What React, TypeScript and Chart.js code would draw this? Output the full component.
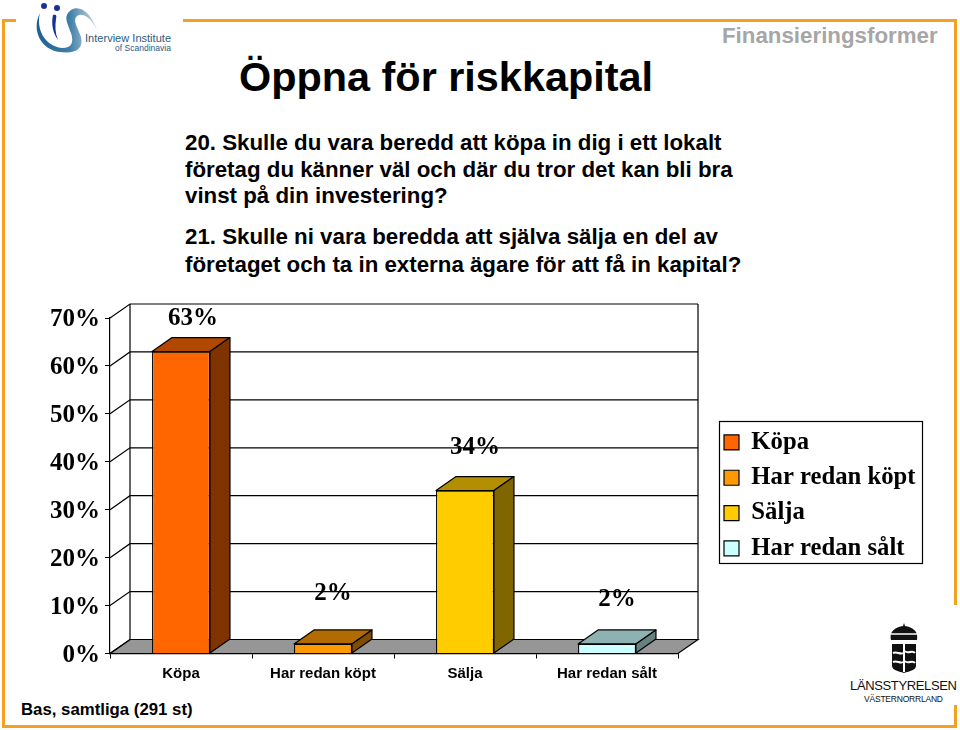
import React, { useEffect, useRef } from "react";
import { Chart, registerables } from "chart.js";

Chart.register(...registerables);

const categories = ["Köpa", "Har redan köpt", "Sälja", "Har redan sålt"];
const shares = [63, 2, 34, 2];
const valueLabels = ["63%", "2%", "34%", "2%"];
const frontColors = ["#FF6600", "#FF9900", "#FFCC00", "#CCFFFF"];
const topColors = ["#B24700", "#B26B00", "#B28E00", "#8EB2B2"];
const sideColors = ["#7F3300", "#7F4C00", "#7F6600", "#667F7F"];
const labelNudgeX = [12, 10, 10, 10];
const labelNudgeY = [-33, -50, -43, -44];

const SERIF = '"Liberation Serif", "Times New Roman", serif';
const SANS = '"Liberation Sans", Arial, sans-serif';
const DX = 20;
const DY = -14;
const FRAME = "#F5A01E";

const depthPlugin = {
  id: "depth",
  beforeLayout(chart: any) {
    const lg = chart.legend;
    if (lg && !lg.__patched) {
      const orig = lg.fit;
      lg.fit = function () {
        orig.call(this);
        this.width = 0;
      };
      lg.__patched = true;
    }
  },
  afterLayout(chart: any) {
    const lg = chart.legend;
    lg.left = 713.4;
    lg.right = 925;
    lg.top = 419.5;
    lg.bottom = 600;
    lg.width = 211.6;
    lg.height = 180.5;
  },
  beforeDatasetsDraw(chart: any) {
    const { ctx, chartArea: a, scales } = chart;
    const y = scales.y;
    ctx.save();
    ctx.fillStyle = "#969696";
    ctx.strokeStyle = "#000";
    ctx.lineWidth = 1.2;
    ctx.beginPath();
    ctx.moveTo(a.left, a.bottom);
    ctx.lineTo(a.right, a.bottom);
    ctx.lineTo(a.right + DX, a.bottom + DY);
    ctx.lineTo(a.left + DX, a.bottom + DY);
    ctx.closePath();
    ctx.fill();
    ctx.stroke();
    y.ticks.forEach((t: any) => {
      const py = y.getPixelForValue(t.value);
      ctx.beginPath();
      ctx.moveTo(a.left, py);
      ctx.lineTo(a.left + DX, py + DY);
      ctx.lineTo(a.right + DX, py + DY);
      ctx.stroke();
    });
    ctx.beginPath();
    ctx.moveTo(a.left + DX, a.top + DY);
    ctx.lineTo(a.left + DX, a.bottom + DY);
    ctx.moveTo(a.right + DX, a.top + DY);
    ctx.lineTo(a.right + DX, a.bottom + DY);
    ctx.stroke();
    ctx.restore();
  },
  afterDatasetsDraw(chart: any) {
    const { ctx } = chart;
    const bars = chart.getDatasetMeta(0).data;
    ctx.save();
    ctx.strokeStyle = "#000";
    ctx.lineWidth = 1.2;
    ctx.lineJoin = "round";
    bars.forEach((bar: any, i: number) => {
      const half = bar.width / 2;
      const l = bar.x - half;
      const r = bar.x + half;
      const t = bar.y;
      const b = bar.base;
      ctx.fillStyle = topColors[i];
      ctx.beginPath();
      ctx.moveTo(l, t);
      ctx.lineTo(l + DX, t + DY);
      ctx.lineTo(r + DX, t + DY);
      ctx.lineTo(r, t);
      ctx.closePath();
      ctx.fill();
      ctx.stroke();
      ctx.fillStyle = sideColors[i];
      ctx.beginPath();
      ctx.moveTo(r, t);
      ctx.lineTo(r + DX, t + DY);
      ctx.lineTo(r + DX, b + DY);
      ctx.lineTo(r, b);
      ctx.closePath();
      ctx.fill();
      ctx.stroke();
    });
    ctx.fillStyle = "#000";
    ctx.font = `bold 25px ${SERIF}`;
    ctx.textAlign = "center";
    ctx.textBaseline = "middle";
    bars.forEach((bar: any, i: number) => {
      ctx.fillText(valueLabels[i], bar.x + labelNudgeX[i], bar.y + labelNudgeY[i]);
    });
    ctx.restore();
  },
  afterDraw(chart: any) {
    const { ctx } = chart;
    ctx.save();
    ctx.strokeStyle = "#000";
    ctx.lineWidth = 1.2;
    ctx.strokeRect(719.5, 421.5, 203, 142);
    ctx.restore();
  },
};

const questionLines = [
  { text: "20. Skulle du vara beredd att köpa in dig i ett lokalt", top: 132 },
  { text: "företag du känner väl och där du tror det kan bli bra", top: 158.6 },
  { text: "vinst på din investering?", top: 185 },
  { text: "21. Skulle ni vara beredda att själva sälja en del av", top: 226 },
  { text: "företaget och ta in externa ägare för att få in kapital?", top: 253.6 },
];

export default function App() {
  const ref = useRef<HTMLCanvasElement>(null);
  useEffect(() => {
    document.body.style.margin = "0";
    document.body.style.background = "#fff";
    const chart = new Chart(ref.current!, {
      type: "bar",
      data: {
        labels: categories,
        datasets: [
          {
            data: shares,
            backgroundColor: frontColors,
            borderColor: "#000",
            borderWidth: 1.2,
            barPercentage: 0.51,
            categoryPercentage: 0.8,
          },
        ],
      },
      plugins: [depthPlugin],
      options: {
        animation: false,
        responsive: false,
        layout: { padding: { top: 318, right: 282, left: 0, bottom: 0 } },
        scales: {
          x: {
            afterFit(s: any) {
              s.height = 76.5;
            },
            border: { color: "#000", width: 1.2 },
            grid: {
              drawOnChartArea: false,
              tickLength: 5,
              color: "#000",
              offset: true,
            },
            ticks: {
              color: "#000",
              padding: 6,
              font: { family: SANS, size: 15, weight: "bold" },
            },
          },
          y: {
            min: 0,
            max: 70,
            afterFit(s: any) {
              s.width = 110;
            },
            border: { color: "#000", width: 1.2 },
            grid: { drawOnChartArea: false, tickLength: 5, color: "#000" },
            ticks: {
              stepSize: 10,
              color: "#000",
              padding: 5,
              labelOffset: 2,
              font: { family: SERIF, size: 25, weight: "bold" },
              callback: (v: any) => `${v}%`,
            },
          },
        },
        plugins: {
          tooltip: { enabled: false },
          title: { display: false },
          legend: {
            position: "right",
            align: "start",
            labels: {
              boxWidth: 15,
              boxHeight: 15,
              padding: 10.6,
              color: "#000",
              font: { family: SERIF, size: 24.7, weight: "bold" },
              generateLabels: () =>
                categories.map((c, i) => ({
                  text: c,
                  fillStyle: frontColors[i],
                  strokeStyle: "#000",
                  lineWidth: 1.2,
                  hidden: false,
                  index: i,
                })),
            },
          },
        },
      } as any,
    });
    return () => chart.destroy();
  }, []);

  const abs = (left: number, top: number, extra: React.CSSProperties): React.CSSProperties => ({
    position: "absolute",
    left,
    top,
    whiteSpace: "nowrap",
    fontFamily: SANS,
    lineHeight: 1,
    ...extra,
  });

  return (
    <div style={{ position: "relative", width: 960, height: 730, overflow: "hidden", background: "#fff" }}>
      <svg width={960} height={730} style={{ position: "absolute", left: 0, top: 0 }}>
        <g fill="none" stroke={FRAME} strokeWidth={3}>
          <path d="M16 20.5H3.5V726.5H955.5V705" />
          <path d="M183 20.5H955.5V605" />
        </g>
        <defs>
          <linearGradient id="sw" x1="0" y1="0" x2="1" y2="0">
            <stop offset="0" stopColor="#1F5E93" />
            <stop offset="0.55" stopColor="#3F80A8" />
            <stop offset="1" stopColor="#D5DCE2" />
          </linearGradient>
        </defs>
        <path
          d="M40 13C36 28 44 46 62 48C72 48 74 42 71 33C67 22 63 16 71 10C80 4 92 14 97 30C91 17 82 12 77 16C72 20 78 28 81 37C84 50 74 54 60 52C41 50 31 30 40 13Z"
          fill="url(#sw)"
        />
        <circle cx={44} cy={6} r={3} fill="#16319A" />
        <circle cx={57} cy={8} r={3} fill="#16319A" />
        <path d="M53 15C56 14 57 15 56 19C55 26 55 33 58 40C53 33 51 24 53 15Z" fill="#16319A" />
        <text x={85} y={42} fontFamily={SANS} fontSize={11} fill="#2C5A80" textLength={86}>
          Interview Institute
        </text>
        <text x={115} y={51} fontFamily={SANS} fontSize={8.5} fill="#2C5A80" textLength={56}>
          of Scandinavia
        </text>
        <g fill="#111">
          <path d="M891 640C889 630 897 627 903 626L904 623L905 626C911 627 919 630 917 640Z" />
          <path d="M892 644H916V666C916 670 910 671 904 673C898 671 892 670 892 666Z" />
        </g>
        <g stroke="#fff" strokeWidth={2} fill="none">
          <path d="M904 644V672M893 653C897 651 900 655 903 653M893 662C897 660 900 664 903 662M905 651C908 655 912 649 915 653M905 661C908 665 912 659 915 663" />
          <path d="M891 634H917" strokeWidth={1.5} />
        </g>
        <text x={850} y={690} fontFamily={SANS} fontSize={13} fill="#111" textLength={107}>
          LÄNSSTYRELSEN
        </text>
        <text x={864} y={702} fontFamily={SANS} fontSize={8.5} fill="#111" textLength={79}>
          VÄSTERNORRLAND
        </text>
      </svg>
      <div style={abs(239, 56.7, { fontSize: 41.4, fontWeight: "bold", color: "#000" })}>Öppna för riskkapital</div>
      <div style={abs(722, 25, { fontSize: 22.3, fontWeight: "bold", color: "#A6A6A6" })}>Finansieringsformer</div>
      {questionLines.map((l) => (
        <div key={l.text} style={abs(185, l.top, { fontSize: 22.3, fontWeight: "bold", color: "#000" })}>
          {l.text}
        </div>
      ))}
      <div style={abs(21, 701.5, { fontSize: 16.8, fontWeight: "bold", color: "#000" })}>Bas, samtliga (291 st)</div>
      <canvas ref={ref} width={960} height={730} style={{ position: "absolute", left: 0, top: 0, display: "block" }} />
    </div>
  );
}
